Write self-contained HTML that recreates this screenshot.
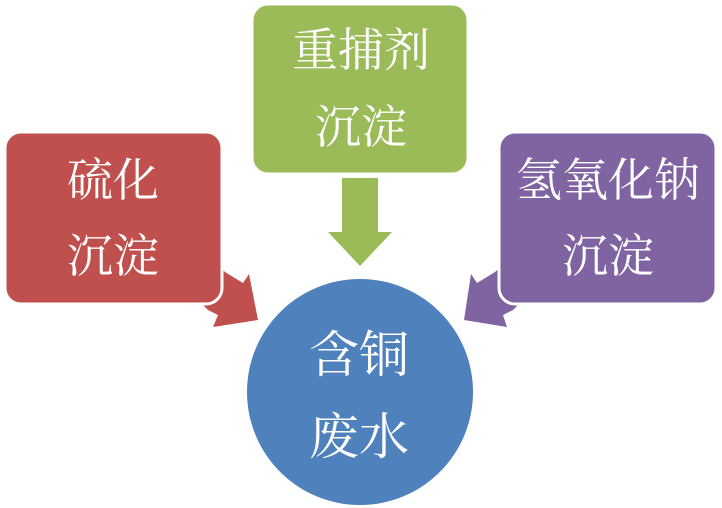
<!DOCTYPE html>
<html><head><meta charset="utf-8"><style>
html,body{margin:0;padding:0;background:#fff;}
body{width:722px;height:508px;overflow:hidden;position:relative;}
svg{position:absolute;left:0;top:0;}
text{font-family:"Liberation Serif","Noto Serif CJK SC",serif;font-size:46px;fill:#fff;text-anchor:middle;}
</style></head><body>
<svg width="722" height="508" viewBox="0 0 722 508">
<polygon points="205,252 225,272 243,283 249,274 258,320 213,327 218,315 208,310 188,290" fill="#C0504D"/>
<polygon points="517,252 495,272 477,283 471,274 464,320 507,327 503,315 513,310 533,290" fill="#8064A2"/>
<polygon points="342,178 378,178 378,232 392,232 360,266 328,232 342,232" fill="#9BBB59"/>
<rect x="5" y="132" width="217" height="172" rx="16" fill="#C0504D" stroke="#fff" stroke-width="3"/>
<rect x="252" y="4" width="216" height="170" rx="16" fill="#9BBB59" stroke="#fff" stroke-width="3"/>
<rect x="499" y="132" width="217" height="172" rx="16" fill="#8064A2" stroke="#fff" stroke-width="3"/>
<circle cx="360" cy="392" r="113" fill="#4F81BD"/>
<text x="113" y="196">硫化</text>
<text x="113" y="272">沉淀</text>
<text x="361" y="66">重捕剂</text>
<text x="361" y="143">沉淀</text>
<text x="608" y="196">氢氧化钠</text>
<text x="608" y="272">沉淀</text>
<text x="359" y="372" style="font-size:50px">含铜</text>
<text x="359" y="454" style="font-size:50px">废水</text>
</svg>
</body></html>
